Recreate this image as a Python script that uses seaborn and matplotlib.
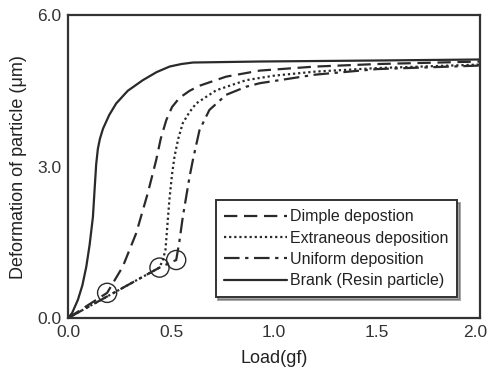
import pandas as pd
import matplotlib
matplotlib.use("Agg")
import matplotlib.pyplot as plt
import matplotlib.transforms as mtransforms
import seaborn as sns

# Curve data (Load in gf, deformation in um)
brank_x = [0, 0.02, 0.048, 0.07, 0.089, 0.105, 0.121, 0.13, 0.137, 0.145, 0.155,
           0.17, 0.20, 0.234, 0.29, 0.363, 0.43, 0.493, 0.55, 0.606, 0.93,
           1.5, 2.0]
brank_y = [0, 0.1, 0.36, 0.65, 1.02, 1.45, 2.0, 2.6, 3.05, 3.35, 3.55,
           3.75, 4.02, 4.25, 4.5, 4.71, 4.87, 4.98, 5.03, 5.06, 5.08,
           5.1, 5.12]

dimple_x = [0, 0.19, 0.266, 0.331, 0.387, 0.428, 0.45, 0.477, 0.505, 0.541,
            0.59, 0.638, 0.767, 0.93, 1.2, 1.5, 2.0]
dimple_y = [0, 0.5, 1.02, 1.68, 2.47, 3.13, 3.55, 3.92, 4.18, 4.36,
            4.5, 4.6, 4.78, 4.9, 4.98, 5.03, 5.08]

extra_x = [0, 0.444, 0.46, 0.473, 0.492, 0.505, 0.517, 0.535, 0.557, 0.59,
           0.622, 0.719, 0.864, 1.0, 1.2, 1.5, 2.0]
extra_y = [0, 1.0, 1.15, 1.35, 2.34, 2.85, 3.2, 3.55, 3.86, 4.08,
           4.25, 4.51, 4.71, 4.8, 4.88, 4.95, 5.02]

uniform_x = [0, 0.444, 0.525, 0.54, 0.557, 0.59, 0.606, 0.638, 0.686, 0.767,
             0.864, 0.93, 1.2, 1.5, 2.0]
uniform_y = [0, 1.0, 1.15, 1.5, 2.0, 2.8, 3.13, 3.72, 4.12, 4.42,
             4.58, 4.65, 4.82, 4.93, 5.0]

# circled transition points
circle_x = [0.19, 0.444, 0.525]
circle_y = [0.5, 1.0, 1.15]

labels = ["Dimple depostion", "Extraneous deposition", "Uniform deposition",
          "Brank (Resin particle)"]

sns.set_style("white")
plt.rcParams["font.family"] = ["Liberation Sans", "DejaVu Sans"]

ink = "#2a2a2a"

fig, ax = plt.subplots(figsize=(4.89, 3.76), dpi=100)
fig.subplots_adjust(left=0.139, right=0.982, bottom=0.154, top=0.960)

series = [
    (dimple_x, dimple_y, (0, (6, 3))),
    (extra_x, extra_y, (0, (1, 1.3))),
    (uniform_x, uniform_y, (0, (7, 2.5, 1.5, 2.5))),
    (brank_x, brank_y, "-"),
]
for (xs, ys, ls), lab in zip(series, labels):
    sns.lineplot(x=xs, y=ys, ax=ax, color=ink, linewidth=1.6, linestyle=ls,
                 label=lab, sort=False, estimator=None)

sns.scatterplot(x=circle_x, y=circle_y, ax=ax, s=190, facecolor="none",
                edgecolor=ink, linewidth=1.0, legend=False, zorder=5)

ax.set_xlim(0, 2.0)
ax.set_ylim(0, 6.0)
ax.set_xticks([0, 0.5, 1.0, 1.5, 2.0])
ax.set_yticks([0, 3.0, 6.0])
ax.set_xticklabels(["0.0", "0.5", "1.0", "1.5", "2.0"])
ax.set_yticklabels(["0.0", "3.0", "6.0"])
ax.tick_params(length=0, labelsize=12.5, labelcolor="#333333", pad=5)

# nudge the last x label left so it stays inside the image
last = ax.get_xticklabels()[-1]
last.set_transform(last.get_transform() +
                   mtransforms.ScaledTranslation(-5 / 100, 0, fig.dpi_scale_trans))

ax.set_xlabel("Load(gf)", fontsize=13, color="#222222", labelpad=7)
ax.set_ylabel("Deformation of particle (\u03bcm)", fontsize=13,
              color="#222222", labelpad=7)

for sp in ax.spines.values():
    sp.set_visible(True)
    sp.set_color("#333333")
    sp.set_linewidth(1.6)

leg = ax.legend(loc="lower right", bbox_to_anchor=(0.944, 0.069),
                fontsize=11.5, frameon=True, fancybox=False, shadow=True,
                handlelength=3.9, handletextpad=0.2, labelspacing=0.4,
                borderpad=0.55, borderaxespad=0)
leg.get_frame().set_edgecolor("#333333")
leg.get_frame().set_linewidth(1.4)
for t in leg.get_texts():
    t.set_color("#222222")

fig.savefig("out.png", dpi=100)
plt.close(fig)
